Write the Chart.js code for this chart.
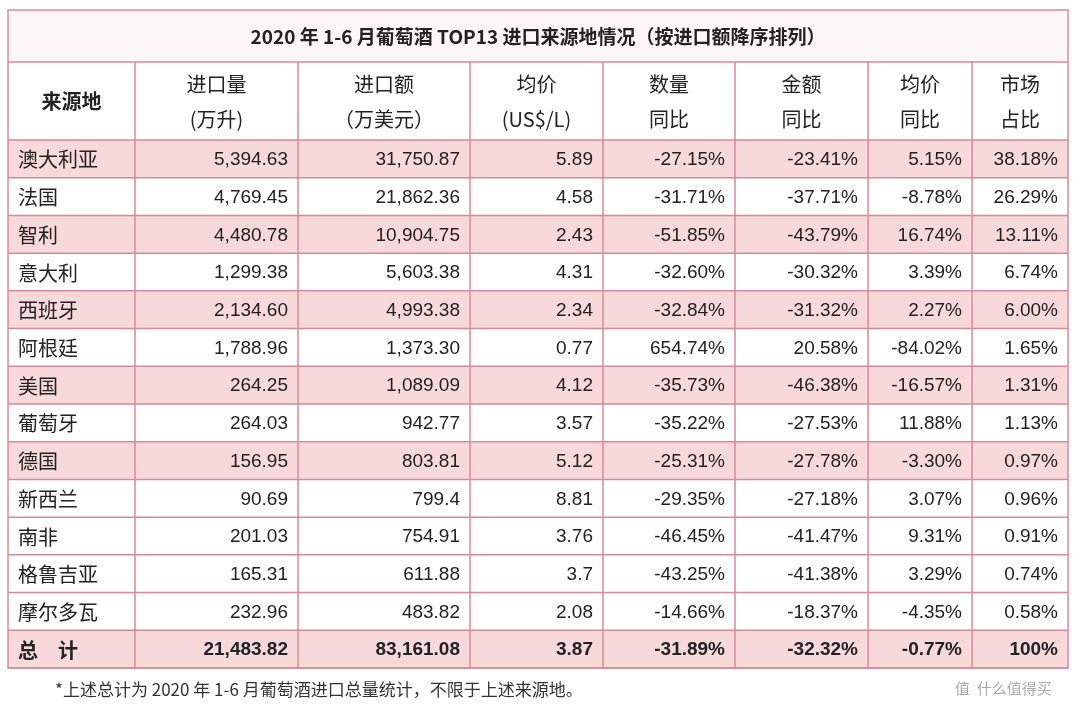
<!DOCTYPE html>
<html><head><meta charset="utf-8">
<script src="https://cdn.jsdelivr.net/npm/chart.js@4"></script>
<style>html,body{margin:0;padding:0;background:#fff}#w{width:1080px;height:708px}</style>
</head><body><div id="w"><canvas id="c"></canvas></div>
<script>
const title = '2020 年 1-6 月葡萄酒 TOP13 进口来源地情况（按进口额降序排列）';
const headers = [['来源地'],['进口量','(万升)'],['进口额','（万美元）'],['均价','(US$/L)'],['数量','同比'],['金额','同比'],['均价','同比'],['市场','占比']];
const countries = ['澳大利亚','法国','智利','意大利','西班牙','阿根廷','美国','葡萄牙','德国','新西兰','南非','格鲁吉亚','摩尔多瓦','总　计'];
const volume = ['5,394.63','4,769.45','4,480.78','1,299.38','2,134.60','1,788.96','264.25','264.03','156.95','90.69','201.03','165.31','232.96','21,483.82'];
const value = ['31,750.87','21,862.36','10,904.75','5,603.38','4,993.38','1,373.30','1,089.09','942.77','803.81','799.4','754.91','611.88','483.82','83,161.08'];
const price = ['5.89','4.58','2.43','4.31','2.34','0.77','4.12','3.57','5.12','8.81','3.76','3.7','2.08','3.87'];
const volYoY = ['-27.15%','-31.71%','-51.85%','-32.60%','-32.84%','654.74%','-35.73%','-35.22%','-25.31%','-29.35%','-46.45%','-43.25%','-14.66%','-31.89%'];
const valYoY = ['-23.41%','-37.71%','-43.79%','-30.32%','-31.32%','20.58%','-46.38%','-27.53%','-27.78%','-27.18%','-41.47%','-41.38%','-18.37%','-32.32%'];
const priceYoY = ['5.15%','-8.78%','16.74%','3.39%','2.27%','-84.02%','-16.57%','11.88%','-3.30%','3.07%','9.31%','3.29%','-4.35%','-0.77%'];
const share = ['38.18%','26.29%','13.11%','6.74%','6.00%','1.65%','1.31%','1.13%','0.97%','0.96%','0.91%','0.74%','0.58%','100%'];
const highlighted = [true,false,true,false,true,false,true,false,true,false,false,false,false,true];
const colEdges = [8,135,298,470,603,735,868,972,1068];

const PINK='#f7d8db', LINE='#d98b95';
const tablePlugin={id:'tbl',
 beforeDatasetsDraw(ch){const c=ch.ctx,a=ch.chartArea,x=ch.scales.x;
   c.save();c.fillStyle='#fdf6f6';c.fillRect(x.getPixelForValue(8),10,1060,52);c.restore();},
 afterDatasetsDraw(ch){
  const c=ch.ctx,x=ch.scales.x,y=ch.scales.y,a=ch.chartArea;
  const X=v=>x.getPixelForValue(v);
  const n=countries.length,rh=(a.bottom-a.top)/n;
  c.save();c.strokeStyle=LINE;c.lineWidth=1.5;
  const top=10,hTop=62;
  c.strokeRect(X(8),top,1060,a.bottom-top);
  c.beginPath();c.moveTo(X(8),hTop);c.lineTo(X(1068),hTop);
  for(let i=0;i<=n;i++){const yy=a.top+i*rh;c.moveTo(X(8),yy);c.lineTo(X(1068),yy);}
  for(let k=1;k<colEdges.length-1;k++){c.moveTo(X(colEdges[k]),hTop);c.lineTo(X(colEdges[k]),a.bottom);}
  c.stroke();
  c.fillStyle='#222';c.textBaseline='middle';
  c.font='bold 19px "Noto Sans CJK SC"';c.textAlign='center';
  c.fillText(title,X(538),37);
  c.font='20px "Noto Sans CJK SC"';
  headers.forEach((h,k)=>{const cx=(X(colEdges[k])+X(colEdges[k+1]))/2;
    if(h.length===1){c.font='bold 20px "Noto Sans CJK SC"';c.fillText(h[0],cx,101);c.font='20px "Noto Sans CJK SC"';}
    else{c.fillText(h[0],cx,84);c.fillText(h[1],cx,119);}});
  const cols=[volume,value,price,volYoY,valYoY,priceYoY,share];
  countries.forEach((nm,i)=>{const yy=y.getPixelForValue(i)+1;const last=i===n-1;
    c.textAlign='left';c.font=(last?'bold ':'')+'20px "Noto Sans CJK SC"';c.fillText(nm,X(18),yy);
    c.textAlign='right';c.font=(last?'bold ':'')+'19px "Liberation Sans"';
    cols.forEach((arr,k)=>c.fillText(arr[i],X(colEdges[k+2])-10,yy));});
  c.textAlign='left';c.font='17px "Noto Sans CJK SC"';c.fillStyle='#333';
  c.fillText('*上述总计为 2020 年 1-6 月葡萄酒进口总量统计，不限于上述来源地。',X(55),690);
  c.fillStyle='#aaa';c.font='15px "Noto Sans CJK SC"';c.fillText('值  什么值得买',X(955),688);
  c.restore();}};

new Chart(document.getElementById('c'),{type:'bar',
 data:{labels:countries,datasets:[{data:highlighted.map(h=>h?[8,1068]:null),backgroundColor:PINK,borderWidth:0,barPercentage:1,categoryPercentage:1}]},
 options:{indexAxis:'y',responsive:true,maintainAspectRatio:false,animation:false,
  layout:{padding:{left:8,right:12,top:140,bottom:40}},
  plugins:{legend:{display:false},tooltip:{enabled:false}},
  scales:{x:{type:'linear',min:8,max:1068,display:false},y:{display:false}}},
 plugins:[tablePlugin]});
</script></body></html>
